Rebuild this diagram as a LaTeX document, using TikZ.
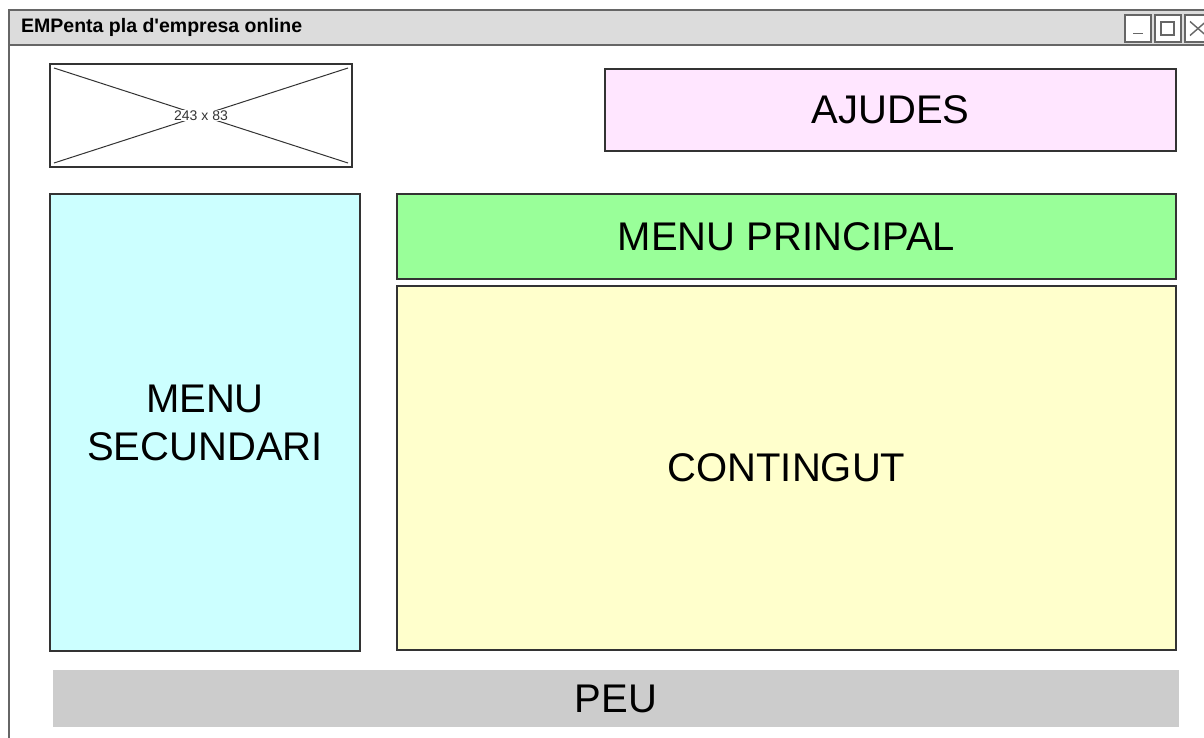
\documentclass[tikz,border=0pt]{standalone}
\usepackage{fontspec}
\setmainfont{Liberation Sans}
\definecolor{frame}{HTML}{666666}
\definecolor{edge}{HTML}{333333}
\definecolor{titlebg}{HTML}{DCDCDC}
\definecolor{ajudes}{HTML}{FFE6FF}
\definecolor{secund}{HTML}{CCFFFF}
\definecolor{princ}{HTML}{99FF99}
\definecolor{conting}{HTML}{FFFFCC}
\definecolor{peu}{HTML}{CCCCCC}
\tikzset{
  panel/.style={draw=edge, line width=1.1pt, inner sep=0pt, outer sep=0pt, align=center,
    font=\fontsize{40}{48}\selectfont, text=black},
  winbtn/.style={draw=frame, fill=white, line width=1.4pt, inner sep=0pt, outer sep=0pt,
    minimum width=26pt, minimum height=27pt},
  glyph/.style={draw=frame, line width=1.4pt},
}
\begin{document}
\begin{tikzpicture}[x=1pt,y=-1pt]
\useasboundingbox (0,0) rectangle (1204,737);
\clip (0,0) rectangle (1204,737);
% window
\node[draw=frame, line width=1.4pt, fill=white, inner sep=0pt, outer sep=0pt,
  minimum width=1220pt, minimum height=740pt, anchor=north west] (win) at (9,10) {};
\node[draw=frame, line width=1.4pt, fill=titlebg, inner sep=0pt, outer sep=0pt,
  minimum width=1220pt, minimum height=35pt, anchor=north west] (bar) at (9,10) {};
\node[anchor=west, font=\bfseries\fontsize{19.5}{22}\selectfont, inner sep=0pt] (title) at (21,27.5) {EMPenta pla d\textquotesingle empresa online};
% buttons
\node[winbtn, anchor=north west] (bmin) at (1125,15) {};
\node[winbtn, anchor=north west] (bmax) at (1155,15) {};
\node[winbtn, anchor=north west] (bclose) at (1185,15) {};
\draw[glyph] ([xshift=-5pt,yshift=-5pt]bmin.center) -- ([xshift=5pt,yshift=-5pt]bmin.center);
\draw[glyph] ([xshift=-7pt,yshift=-6.5pt]bmax.center) rectangle ([xshift=6pt,yshift=6.5pt]bmax.center);
\draw[glyph] ([xshift=-8pt,yshift=-7pt]bclose.center) -- ([xshift=8pt,yshift=7pt]bclose.center);
\draw[glyph] ([xshift=-8pt,yshift=7pt]bclose.center) -- ([xshift=8pt,yshift=-7pt]bclose.center);
% image placeholder
\node[draw=edge, line width=1.1pt, fill=white, inner sep=0pt, outer sep=0pt,
  minimum width=302pt, minimum height=103pt, anchor=north west] (img) at (50,64) {};
\draw[edge, line width=1pt] ([xshift=4pt,yshift=-4pt]img.north west) -- ([xshift=-4pt,yshift=4pt]img.south east);
\draw[edge, line width=1pt] ([xshift=-4pt,yshift=-4pt]img.north east) -- ([xshift=4pt,yshift=4pt]img.south west);
\node[fill=white, inner sep=1pt, font=\fontsize{14}{16}\selectfont, text=edge] (imglabel) at (img.center) {243 x 83};
% panels
\node[panel, fill=ajudes, minimum width=571pt, minimum height=82pt, anchor=north west] (ajudes) at (605,69) {AJUDES};
\node[panel, fill=secund, minimum width=310pt, minimum height=457pt, anchor=north west] (secund) at (50,194) {MENU\\SECUNDARI};
\node[panel, fill=princ, minimum width=779pt, minimum height=85pt, anchor=north west] (princ) at (397,194) {MENU PRINCIPAL};
\node[panel, fill=conting, minimum width=779pt, minimum height=364pt, anchor=north west] (conting) at (397,286) {CONTINGUT};
\node[panel, draw=none, fill=peu, minimum width=1126pt, minimum height=57pt, anchor=north west] (peu) at (53,670) {PEU};
\end{tikzpicture}
\end{document}
